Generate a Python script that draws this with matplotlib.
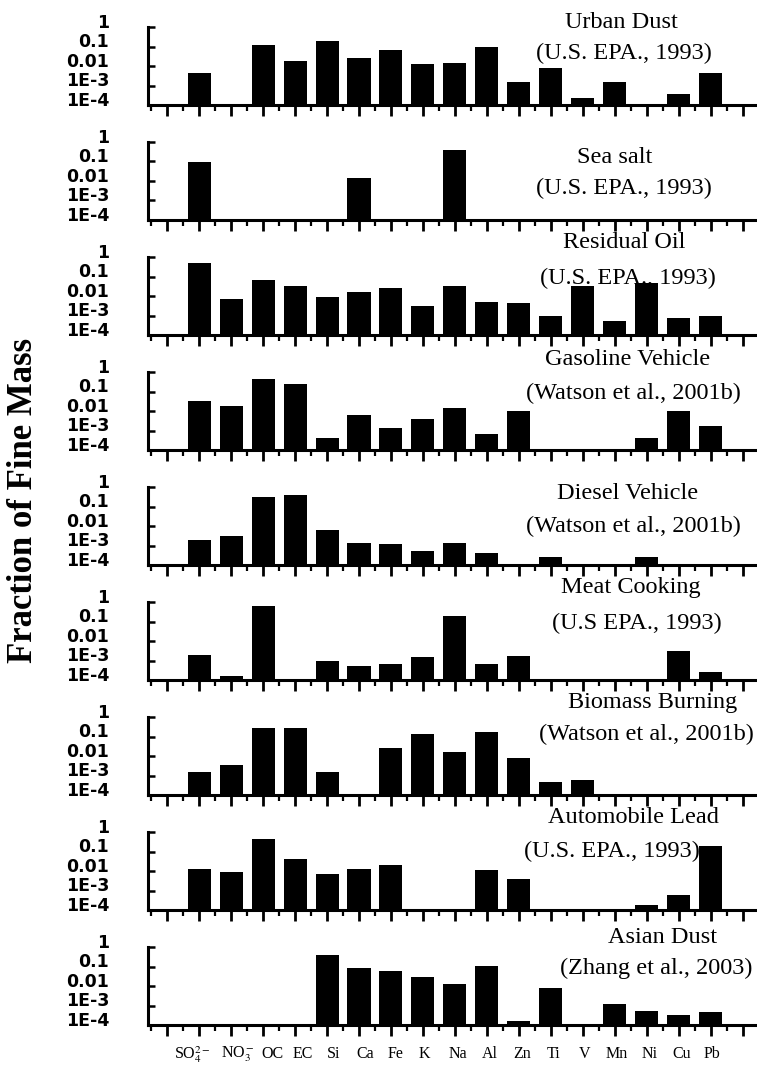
"""Source profiles (fraction of fine mass) for nine PM2.5 source types, log bars."""
import numpy as np
import matplotlib

matplotlib.use("Agg")
import matplotlib.pyplot as plt
from matplotlib import transforms
from matplotlib.ticker import FixedLocator, LogLocator, NullFormatter, MultipleLocator

plt.rcParams["mathtext.fontset"] = "stix"

species = ["SO$_4^{2-}$", "NO$_3^-$", "OC", "EC", "Si", "Ca", "Fe", "K", "Na",
           "Al", "Zn", "Ti", "V", "Mn", "Ni", "Cu", "Pb"]

# one row per source, None = not reported
urban_dust = [0.0042, None, 0.126, 0.018, 0.20, 0.026, 0.068, 0.012, 0.015,
              0.095, 0.00145, 0.0078, 0.00024, 0.00145, None, 0.00036, 0.0043]
sea_salt = [0.093, None, None, None, None, 0.014, None, None, 0.37,
            None, None, None, None, None, None, None, None]
residual_oil = [0.49, 0.0069, 0.063, 0.031, 0.0093, 0.016, 0.025, 0.0029, 0.032,
                0.0048, 0.0043, 0.0010, 0.031, 0.00055, 0.046, 0.00075, 0.0010]
gasoline = [0.034, 0.0174, 0.46, 0.23, 0.00039, 0.0062, 0.00127, 0.0037, 0.0138,
            0.00065, 0.0105, None, None, None, 0.00039, 0.0105, 0.0017]
diesel = [0.0020, 0.0029, 0.30, 0.37, 0.0059, 0.00135, 0.00115, 0.0005, 0.00135,
          0.00042, None, 0.00026, None, None, 0.00026, None, None]
meat_cooking = [0.00195, 0.00016, 0.59, None, 0.0009, 0.00054, 0.00066, 0.0015, 0.20,
                0.00066, 0.0018, None, None, None, None, 0.0030, 0.00026]
biomass = [0.0015, 0.0035, 0.27, 0.27, 0.0015, None, 0.027, 0.13, 0.016,
           0.18, 0.0082, 0.00044, 0.0006, None, None, None, None]
auto_lead = [0.0123, 0.0089, 0.45, 0.041, 0.0072, 0.0123, 0.0205, None, None,
             0.0108, 0.0037, None, None, None, 0.00018, 0.0006, 0.19]
asian_dust = [None, None, None, None, 0.40, 0.083, 0.056, 0.028, 0.012,
              0.105, 0.00017, 0.008, None, 0.00126, 0.00053, 0.00033, 0.00045]

profiles = [urban_dust, sea_salt, residual_oil, gasoline, diesel,
            meat_cooking, biomass, auto_lead, asian_dust]
titles = [
    ("Urban Dust", "(U.S. EPA., 1993)"),
    ("Sea salt", "(U.S. EPA., 1993)"),
    ("Residual Oil", "(U.S. EPA., 1993)"),
    ("Gasoline Vehicle", "(Watson et al., 2001b)"),
    ("Diesel Vehicle", "(Watson et al., 2001b)"),
    ("Meat Cooking", "(U.S EPA., 1993)"),
    ("Biomass Burning", "(Watson et al., 2001b)"),
    ("Automobile Lead", "(U.S. EPA., 1993)"),
    ("Asian Dust", "(Zhang et al., 2003)"),
]
ytick_vals = [1e-4, 1e-3, 1e-2, 1e-1, 1]
ytick_text = ["1E-4", "1E-3", "0.01", "0.1", "1"]

# layout (pixels of the 757x1071 canvas, category units for x)
W, H = 757, 1071
AX_LEFT, TOP0, AX_H, PITCH = 148, 27, 78, 115
YMIN, YMAX = 1e-4, 1.0
title_pos = [  # (x1, y1, x2, y2): x in category units, y in axes fraction
    (14.2, 1.06, 14.3, 0.66),
    (14.0, 0.80, 14.3, 0.41),
    (14.3, 1.18, 14.4, 0.72),
    (14.4, 1.16, 14.6, 0.72),
    (14.4, 0.92, 14.6, 0.50),
    (14.5, 1.18, 14.7, 0.72),
    (15.2, 1.18, 15.0, 0.77),
    (14.6, 1.18, 13.9, 0.75),
    (15.5, 1.12, 15.3, 0.72),
]
label_x = [0.8, 2.2, 3.3, 4.25, 5.2, 6.2, 7.15, 8.05, 9.1,
           10.1, 11.1, 12.1, 13.05, 14.05, 15.1, 16.1, 17.05]

serif = "Liberation Serif"
fig = plt.figure(figsize=(W / 100, H / 100), dpi=100)
x = np.arange(1, len(species) + 1)

for k, (vals, (t1, t2)) in enumerate(zip(profiles, titles)):
    top = TOP0 + PITCH * k
    ax = fig.add_axes([AX_LEFT / W, 1 - (top + AX_H) / H, (W - AX_LEFT) / W, AX_H / H])
    v = np.array([np.nan if val is None else val for val in vals], dtype=float)
    ok = np.isfinite(v)
    ax.bar(x[ok], v[ok] - YMIN, bottom=YMIN, width=0.72, color="black", zorder=3)

    ax.set_yscale("log")
    ax.set_ylim(YMIN, YMAX)
    ax.set_xlim(-0.6, 18.45)
    for side in ("top", "right"):
        ax.spines[side].set_visible(False)
    for side in ("left", "bottom"):
        ax.spines[side].set_linewidth(2.2)

    ax.xaxis.set_major_locator(MultipleLocator(1))
    ax.xaxis.set_minor_locator(MultipleLocator(0.5))
    ax.tick_params(axis="x", which="major", direction="out", length=8, width=2, labelbottom=False)
    ax.tick_params(axis="x", which="minor", direction="out", length=4, width=1.6)

    ax.yaxis.set_major_locator(FixedLocator(ytick_vals))
    ax.yaxis.set_minor_locator(LogLocator(base=10, subs=np.arange(2, 10)))
    ax.yaxis.set_minor_formatter(NullFormatter())
    ax.tick_params(axis="y", which="major", direction="in", length=5, width=1.8, labelleft=False)
    ax.tick_params(axis="y", which="minor", direction="in", length=2.5, width=1)

    ytr = transforms.offset_copy(ax.get_yaxis_transform(), fig=fig, x=-28, y=3, units="points")
    for val, lab in zip(ytick_vals, ytick_text):
        ax.text(0, val, lab, transform=ytr, ha="right", va="center",
                fontsize=12.5, fontweight="bold", family="DejaVu Sans")

    x1, y1, x2, y2 = title_pos[k]
    xtr = ax.get_xaxis_transform()
    ax.text(x1, y1, t1, transform=xtr, ha="center", va="center", fontsize=17.5,
            family=serif, zorder=2, clip_on=False)
    ax.text(x2, y2, t2, transform=xtr, ha="center", va="center", fontsize=17.5,
            family=serif, zorder=2, clip_on=False)

# species names sit under the last panel as a loose text row
ltr = transforms.offset_copy(ax.get_xaxis_transform(), fig=fig, y=-21, units="points")
for lx, name in zip(label_x, species):
    ax.text(lx, 0, name, transform=ltr, ha="center", va="center", fontsize=11.5, family=serif)

fig.text(24 / W, 1 - 500 / H, "Fraction of Fine Mass", rotation=90, ha="center", va="center",
         fontsize=25, fontweight="bold", family=serif)

fig.savefig("out.png", dpi=100)
